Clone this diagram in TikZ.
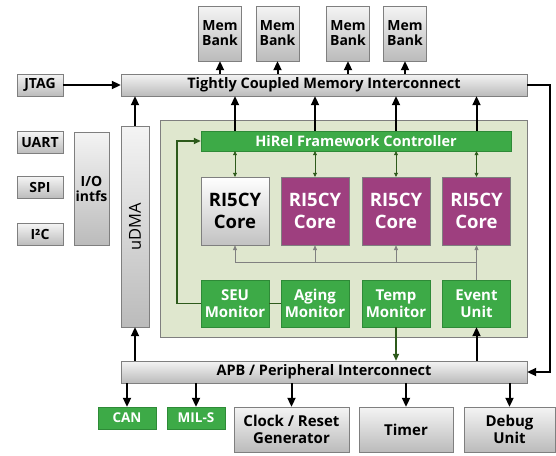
\documentclass[tikz,border=0pt]{standalone}
\usepackage{fontspec}
\setmainfont{Open Sans}
\usetikzlibrary{arrows.meta}
\usetikzlibrary{calc}
\definecolor{boxedge}{HTML}{7F7F7F}
\definecolor{boxtop}{HTML}{F4F4F4}
\definecolor{boxbot}{HTML}{BBBBBB}
\definecolor{corepink}{HTML}{9E3F7F}
\definecolor{hrgreen}{HTML}{3DAA47}
\definecolor{hredge}{HTML}{2E8A37}
\definecolor{panelfill}{HTML}{DFE7CE}
\definecolor{loopgreen}{HTML}{2D5A1B}
\tikzset{
  graybox/.style={draw=boxedge, top color=boxtop, bottom color=boxbot, inner sep=0pt,
    align=center, font=\fontsize{14}{15}\selectfont\bfseries},
  greenbox/.style={draw=hredge, fill=hrgreen, text=white, inner sep=0pt,
    align=center, font=\fontsize{15}{17}\selectfont\bfseries},
  corebox/.style={draw=boxedge, fill=corepink, text=white, inner sep=0pt,
    minimum width=68, minimum height=68, align=center,
    font=\fontsize{18.5}{22}\selectfont\bfseries},
  bus/.style={line width=2pt, -{Triangle[length=9pt,width=8pt]}},
  sig/.style={draw=gray, line width=0.7pt, -{Triangle[length=5pt,width=4pt]}},
  ctl/.style={draw=loopgreen, line width=0.7pt,
    {Triangle[length=4pt,width=4pt]}-{Triangle[length=4pt,width=4pt]}},
  fb/.style={draw=loopgreen, line width=1.6pt}
}
\begin{document}
\begin{tikzpicture}[x=1pt,y=-1pt]
  \useasboundingbox (0,0) rectangle (556,455);
  \node[draw=boxedge, fill=panelfill, minimum width=367, minimum height=217] (panel) at (343.5,228.5) {};
  % memory side
  \foreach \i/\x in {1/220,2/277.5,3/348,4/405} {
    \node[graybox, minimum width=43, minimum height=55] (mem\i) at (\x,33.5) {Mem\\Bank};
  }
  \node[graybox, minimum width=406, minimum height=22, font=\fontsize{14.5}{16}\selectfont\bfseries] (tcm) at (324,85) {Tightly Coupled Memory Interconnect};
  \node[graybox, minimum width=46, minimum height=22] (jtag) at (40,85) {JTAG};
  \foreach \n/\txt/\y in {uart/UART/142.5, spi/SPI/187.5, iic/I²C/234.5} {
    \node[graybox, minimum width=46, minimum height=22] (\n) at (40,\y) {\txt};
  }
  \node[graybox, minimum width=35, minimum height=113] (io) at (91.5,188.5) {I/O\\intfs};
  \node[graybox, minimum width=28, minimum height=201] (udma) at (135,226.5) {};
  \node[rotate=90, font=\fontsize{16.5}{18}\selectfont] at (udma) {uDMA};
  % cluster
  \node[greenbox, minimum width=310, minimum height=20, font=\fontsize{14.5}{16}\selectfont\bfseries] (hirel) at (356,141) {HiRel Framework Controller};
  \node[graybox, top color=white, bottom color=boxbot!90, minimum width=68, minimum height=68,
    font=\fontsize{18.5}{22}\selectfont\bfseries] (core1) at (235,211) {RI5CY\\Core};
  \foreach \i/\x in {2/315,3/396,4/476.5} {
    \node[corebox] (core\i) at (\x,211) {RI5CY\\Core};
  }
  \foreach \n/\txt/\x in {seu/{SEU\\Monitor}/235, aging/{Aging\\Monitor}/315, temp/{Temp\\Monitor}/396, event/{Event\\Unit}/476.5} {
    \node[greenbox, minimum width=68, minimum height=47] (\n) at (\x,303.5) {\txt};
  }
  % peripherals
  \node[graybox, minimum width=406, minimum height=22, font=\fontsize{14.5}{16}\selectfont\bfseries] (apb) at (324,372) {APB / Peripheral Interconnect};
  \node[greenbox, minimum width=58, minimum height=22, font=\fontsize{13.5}{15}\selectfont\bfseries] (can) at (127,418) {CAN};
  \node[greenbox, minimum width=58, minimum height=22, font=\fontsize{13.5}{15}\selectfont\bfseries] (mils) at (196,418) {MIL-S};
  \foreach \n/\txt/\x/\w in {clock/{Clock / Reset\\Generator}/291.5/115, timer/Timer/406/94, debug/{Debug\\Unit}/509.5/91} {
    \node[graybox, minimum width=\w, minimum height=45, font=\fontsize{15}{17}\selectfont\bfseries] (\n) at (\x,429.5) {\txt};
  }
  % connections
  \foreach \i in {1,...,4} {
    \draw[bus] (mem\i |- tcm.north) -- (mem\i.south);
    \draw[bus] (core\i |- hirel.north) -- (core\i |- tcm.south);
    \draw[ctl] (core\i |- hirel.south) -- (core\i.north);
  }
  \draw[bus] (jtag.east) -- (tcm.west);
  \draw[bus] (udma.north) -- (udma |- tcm.south);
  \draw[bus] (tcm.east) -- ++(23,0) |- (apb.east);
  \coordinate (evj) at ($(event.north)!0.5!(core4.south)$);
  \draw[sig] (event.north) -- (core4.south);
  \foreach \i in {1,2,3} {
    \draw[sig] (evj) -| (core\i.south);
  }
  \draw[fb] (aging.west) -- (seu.east);
  \draw[fb, -{Triangle[length=7pt,width=6pt]}] (seu.west) -- ++(-24,0) |- (hirel.west);
  \draw[fb, -{Triangle[length=7pt,width=6pt]}] (temp.south) -- (temp |- apb.north);
  \draw[bus] (event |- apb.north) -- (event.south);
  \draw[bus] (udma |- apb.north) -- (udma.south);
  \foreach \n in {can,mils,clock,timer,debug} {
    \draw[bus] (\n |- apb.south) -- (\n.north);
  }
\end{tikzpicture}
\end{document}
